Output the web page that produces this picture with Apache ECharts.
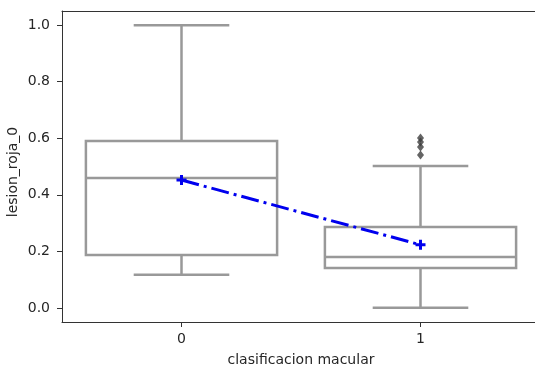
<!DOCTYPE html>
<html>
<head>
<meta charset="utf-8">
<script src="https://cdn.jsdelivr.net/npm/echarts@6/dist/echarts.min.js"></script>
<style>html,body{margin:0;padding:0;background:#fff}#c{width:535px;height:368px}</style>
</head>
<body>
<div id="c"></div>
<script>
const categories = ['0', '1'];
// [lower whisker, Q1, median, Q3, upper whisker]
const boxStats = [
  [0.117, 0.187, 0.459, 0.590, 1.0],
  [0.0, 0.141, 0.180, 0.286, 0.502]
];
const outlierCategory = 1;
const outlierValues = [0.541, 0.569, 0.587, 0.601];
const means = [0.452, 0.223];
const yTicks = [0, 0.2, 0.4, 0.6, 0.8, 1.0];

const boxData = boxStats.map((s, i) => [i].concat(s));
const outlierData = outlierValues.map(v => [outlierCategory, v]);

const chart = echarts.init(document.getElementById('c'));
const textColor = '#262626';
const frameColor = '#333';
const boxColor = '#999999';

chart.setOption({
  animation: false,
  grid: {left: 62, top: 11, width: 478, height: 311, show: false, outerBoundsMode: 'none', containLabel: false},
  xAxis: [{
    type: 'category', data: categories, boundaryGap: true, position: 'bottom',
    name: 'clasificacion macular', nameLocation: 'middle', nameGap: 31,
    nameTextStyle: {fontFamily: 'DejaVu Sans', fontSize: 14, color: textColor},
    axisLine: {show: true, onZero: false, lineStyle: {color: frameColor, width: 1}},
    axisTick: {show: true, alignWithLabel: true, length: 5, lineStyle: {color: frameColor}},
    axisLabel: {fontFamily: 'DejaVu Sans', fontSize: 14, color: textColor, margin: 10},
    splitLine: {show: false}
  }, {
    type: 'category', data: categories, boundaryGap: true, position: 'top',
    axisLine: {show: true, onZero: false, lineStyle: {color: frameColor, width: 1}},
    axisTick: {show: false}, axisLabel: {show: false}, splitLine: {show: false}
  }],
  yAxis: {
    type: 'value', min: -0.05, max: 1.05,
    name: 'lesion_roja_0', nameLocation: 'middle', nameGap: 42, nameMoveOverlap: false,
    nameTextStyle: {fontFamily: 'DejaVu Sans', fontSize: 14, color: textColor, padding: [0, 11, 0, 0]},
    axisLine: {show: true, onZero: false, lineStyle: {color: frameColor, width: 1}},
    axisTick: {show: true, length: 5, customValues: yTicks, lineStyle: {color: frameColor}},
    axisLabel: {fontFamily: 'DejaVu Sans', fontSize: 14, color: textColor, margin: 12, customValues: yTicks,
      formatter: v => v.toFixed(1)},
    splitLine: {show: false}
  },
  series: [
    {
      type: 'custom', z: 2,
      data: boxData,
      encode: {x: 0, y: [1, 2, 3, 4, 5]},
      renderItem: function (params, api) {
        const x = api.value(0);
        const vals = [1, 2, 3, 4, 5].map(i => api.value(i));
        const cx = api.coord([x, vals[2]])[0];
        const band = api.size([1, 0])[0];
        const bw = band * 0.8, cw = bw / 2;
        const y = v => api.coord([x, v])[1];
        const st = {stroke: boxColor, lineWidth: 2.5, fill: null};
        const line = (x1, y1, x2, y2) => ({type: 'line', shape: {x1, y1, x2, y2}, style: st});
        return {
          type: 'group',
          children: [
            line(cx, y(vals[3]), cx, y(vals[4])),
            line(cx, y(vals[1]), cx, y(vals[0])),
            line(cx - cw / 2, y(vals[4]), cx + cw / 2, y(vals[4])),
            line(cx - cw / 2, y(vals[0]), cx + cw / 2, y(vals[0])),
            {type: 'rect', shape: {x: cx - bw / 2, y: y(vals[3]), width: bw, height: y(vals[1]) - y(vals[3])},
              style: {stroke: boxColor, lineWidth: 2.5, fill: '#fff'}},
            line(cx - bw / 2, y(vals[2]), cx + bw / 2, y(vals[2]))
          ]
        };
      }
    },
    {
      type: 'scatter', z: 3,
      data: outlierData,
      symbol: 'diamond', symbolSize: [7, 9],
      itemStyle: {color: '#3d3d3d'}
    },
    {
      type: 'line', z: 4,
      data: means,
      symbol: 'path://M3.5,0H6.5V3.5H10V6.5H6.5V10H3.5V6.5H0V3.5H3.5Z',
      symbolSize: 10, showSymbol: true,
      itemStyle: {color: '#0000ee'},
      lineStyle: {color: '#0000ee', width: 3, type: [18, 5, 3, 5]}
    }
  ]
});
</script>
</body>
</html>
